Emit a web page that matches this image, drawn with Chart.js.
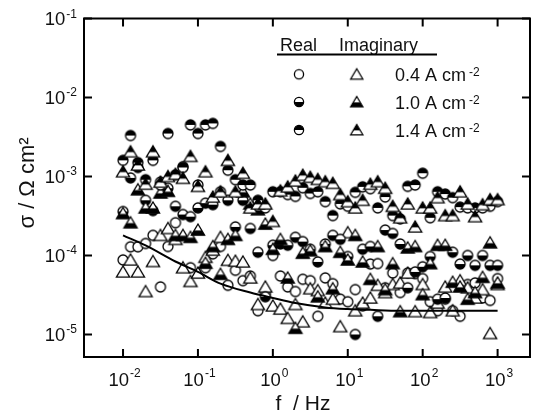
<!DOCTYPE html>
<html>
<head>
<meta charset="utf-8">
<script src="https://cdn.jsdelivr.net/npm/chart.js@4.4.1/dist/chart.umd.min.js"></script>
<style>
html,body{margin:0;padding:0;background:#fff;}
#wrap{width:537px;height:414px;position:relative;}
canvas{display:block;}
</style>
</head>
<body>
<div id="wrap"><canvas id="c" width="537" height="414" style="width:537px;height:414px"></canvas></div>
<script>
// ---- data ----
const frequencies = [0.01,0.0126,0.0158,0.02,0.0251,0.0316,0.0398,0.0501,0.0631,0.0794,
  0.1,0.126,0.158,0.2,0.251,0.316,0.398,0.501,0.631,0.794,
  1,1.26,1.58,2,2.51,3.16,3.98,5.01,6.31,7.94,
  10,12.6,15.8,20,25.1,31.6,39.8,50.1,63.1,79.4,
  100,126,158,200,251,316,398,501,631,794,1000];

const real04 = [8.8e-5,1.29e-4,1.29e-4,1.42e-4,1.8e-4,4.0e-5,1.3e-4,2.6e-4,1.33e-3,7.0e-5,
  7.8e-4,7.0e-5,1.05e-4,1.3e-4,4.2e-5,6.5e-5,4.8e-5,5.5e-5,2.0e-5,3.3e-5,
  1.0e-4,5.5e-5,4.0e-5,3.5e-5,5.0e-5,4.8e-5,1.7e-5,5.2e-5,4.4e-5,2.8e-5,
  2.6e-5,3.7e-5,2.3e-5,7.8e-5,7.9e-5,3.9e-5,6.0e-5,3.4e-5,6.0e-5,5.9e-5,
  5.1e-5,2.6e-5,2.0e-5,2.8e-5,2.0e-5,1.7e-5,4.3e-5,4.5e-5,2.9e-5,2.7e-5,5.1e-5];

const imag04 = [6.2e-5,8.8e-5,6.2e-5,3.5e-5,8.4e-5,1.8e-4,2.2e-4,1.6e-4,7.0e-5,4.7e-5,
  6.0e-5,9.5e-5,1.17e-4,1.7e-4,8.7e-5,8.5e-5,8.3e-5,5.2e-5,2.4e-5,4.0e-5,
  2.3e-5,2.1e-5,1.6e-5,2.4e-5,1.45e-5,3.8e-5,3.6e-5,2.5e-5,2.8e-5,1.26e-5,
  1.95e-4,2.0e-5,2.5e-5,2.9e-5,4.2e-5,3.4e-5,4.3e-5,4.5e-5,6.0e-5,1.95e-5,
  4.3e-5,1.9e-5,2.5e-5,4.0e-5,2.0e-5,4.8e-5,3.9e-5,2.9e-5,3.7e-5,1.03e-5,4.3e-5];

const real10 = [3.6e-4,9.6e-4,1.3e-3,5.0e-4,3.7e-4,8.5e-4,7.1e-4,4.2e-4,3.3e-4,3.1e-4,
  4.0e-4,4.6e-4,4.4e-4,6.4e-4,5.0e-4,2.3e-4,5.0e-4,2.2e-4,1.1e-4,3.0e-5,
  1.35e-4,1.4e-4,1.35e-4,1.7e-4,1.5e-4,1.2e-4,8.3e-5,1.4e-4,1.8e-4,1.6e-4,
  9.7e-5,1.0e-5,1.2e-4,1.3e-4,1.7e-5,2.1e-4,1.9e-4,1.4e-4,3.9e-5,6.2e-5,
  7.2e-5,9.7e-5,2.8e-5,2.9e-5,1.1e-4,7.8e-5,1.0e-4,7.5e-5,1.0e-4,7.5e-5,7.5e-5];

const imag10 = [3.4e-4,2.6e-4,6.8e-4,4.0e-4,4.0e-4,6.2e-4,6.5e-4,1.8e-4,1.8e-4,1.7e-4,
  2.1e-4,8.0e-5,1.3e-4,5.8e-5,1.6e-4,1.8e-4,6.4e-4,4.5e-4,3.8e-4,2.5e-4,
  1.2e-4,1.6e-4,5.2e-5,1.2e-5,1.07e-4,1.15e-4,3.0e-5,1.3e-4,3.8e-5,1.1e-4,
  8.8e-5,1.8e-4,8.3e-5,5.0e-5,1.3e-4,3.7e-5,7.9e-5,1.95e-5,1.25e-4,1.3e-4,
  3.2e-5,7.9e-5,1.35e-4,1.35e-4,4.6e-5,4.0e-5,2.8e-5,3.4e-5,5.3e-5,1.45e-4,4.5e-5];

const real14 = [1.6e-3,3.3e-3,1.5e-3,9.1e-4,1.6e-3,7.8e-4,3.5e-3,1.05e-3,1.3e-3,4.5e-3,
  3.5e-3,4.5e-3,4.7e-3,2.4e-3,1.2e-3,9.1e-4,7.8e-4,7.8e-4,5.0e-4,4.0e-4,
  6.4e-4,6.4e-4,5.9e-4,5.6e-4,7.2e-4,6.1e-4,6.4e-4,4.8e-4,3.2e-4,4.5e-4,
  4.2e-4,6.3e-4,7.4e-4,7.0e-4,4.0e-4,5.5e-4,3.2e-4,2.9e-4,7.5e-4,7.8e-4,
  1.1e-3,3.0e-4,6.4e-4,6.0e-4,5.4e-4,4.1e-4,4.0e-4,4.0e-4,4.0e-4,4.2e-4,4.8e-4];

const imag14 = [1.15e-3,2.06e-3,1.4e-3,8.0e-4,2.06e-3,8.5e-4,1.0e-3,1.07e-3,9.5e-4,1.8e-3,
  7.5e-4,1.15e-3,5.5e-4,6.4e-4,1.6e-3,6.4e-4,1.1e-3,4.0e-4,4.5e-4,4.5e-4,
  2.7e-4,6.6e-4,7.4e-4,8.8e-4,1.04e-3,9.8e-4,9.2e-4,8.6e-4,8.2e-4,5.9e-4,
  4.8e-4,4.0e-4,5.0e-4,8.0e-4,8.6e-4,7.1e-4,4.2e-4,3.0e-4,4.5e-4,2.3e-4,
  4.0e-4,4.0e-4,5.4e-4,3.2e-4,3.2e-4,6.4e-4,4.5e-4,3.1e-4,4.4e-4,5.1e-4,5.1e-4];

const fitFreq  = [0.01,0.02,0.05,0.1,0.2,0.5,1,2,5,10,20,50,100,300,1000];
const fitSigma = [1.8e-4,1.34e-4,8.4e-5,6.2e-5,4.4e-5,3.4e-5,2.9e-5,2.5e-5,2.2e-5,2.1e-5,2.05e-5,2.0e-5,2.0e-5,2.0e-5,2.0e-5];

const xTickValues = [0.01,0.1,1,10,100,1000];
const xTickExps   = ['-2','-1','0','1','2','3'];
const yTickValues = [1e-5,1e-4,1e-3,1e-2,1e-1];
const yTickExps   = ['-5','-4','-3','-2','-1'];
const legendLabels = ['0.4 A cm','1.0 A cm','1.4 A cm'];
const legendExp = '-2';
const xTitle = 'f  / Hz';
const yTitle = 'σ / Ω cm²';

// ---- marker images ----
function makeMarker(shape, mode, scale) {
  const s = scale || 1;
  const c = document.createElement('canvas');
  c.width = 18; c.height = 18;
  const g = c.getContext('2d');
  const path = () => {
    g.beginPath();
    if (shape === 'circle') g.arc(9, 9, 5.0 * s, 0, Math.PI * 2);
    else {
      g.moveTo(9, 9 - 6.0 * s); g.lineTo(9 + 6.6 * s, 9 + 5.2 * s);
      g.lineTo(9 - 6.6 * s, 9 + 5.2 * s); g.closePath();
    }
  };
  path(); g.fillStyle = '#fff'; g.fill();
  if (mode !== 'open') {
    g.save(); path(); g.clip();
    g.fillStyle = '#000';
    const split = shape === 'circle' ? 9 : 9 + 0.4 * s;
    if (mode === 'bottom') g.fillRect(0, split, 18, 18 - split);
    else g.fillRect(0, 0, 18, split);
    g.restore();
  }
  path(); g.lineWidth = 1.3; g.strokeStyle = '#000'; g.stroke();
  return c;
}
const mk = {
  r04: makeMarker('circle', 'open'),
  i04: makeMarker('tri', 'open'),
  r10: makeMarker('circle', 'bottom'),
  i10: makeMarker('tri', 'bottom'),
  r14: makeMarker('circle', 'top'),
  i14: makeMarker('tri', 'top')
};
const lg = {
  r04: makeMarker('circle', 'open', 0.92),
  i04: makeMarker('tri', 'open', 0.92),
  r10: makeMarker('circle', 'bottom', 0.92),
  i10: makeMarker('tri', 'bottom', 0.92),
  r14: makeMarker('circle', 'top', 0.92),
  i14: makeMarker('tri', 'top', 0.92)
};

function pts(xs, ys) { return xs.map((x, i) => ({ x: x, y: ys[i] })); }
function scatterSet(label, ys, img) {
  return { type: 'scatter', label: label, data: pts(frequencies, ys), pointStyle: img,
    pointRadius: 6, pointHoverRadius: 6, showLine: false };
}

const FONT = '"Liberation Sans", Arial, Helvetica, sans-serif';
const TXT = '#111';

function drawPow(ctx, x, baseY, exp, align, mainSize, expSize, raise) {
  ctx.font = mainSize + 'px ' + FONT;
  const w1 = ctx.measureText('10').width;
  ctx.font = expSize + 'px ' + FONT;
  const w2 = ctx.measureText(exp).width;
  const total = w1 + 1 + w2;
  let start = align === 'center' ? x - total / 2 : x - total;
  ctx.textAlign = 'left';
  ctx.textBaseline = 'alphabetic';
  ctx.font = mainSize + 'px ' + FONT;
  ctx.fillText('10', start, baseY);
  ctx.font = expSize + 'px ' + FONT;
  ctx.fillText(exp, start + w1 + 1, baseY - raise);
}

const decor = {
  id: 'decor',
  afterDraw(chart) {
    const ctx = chart.ctx;
    const a = chart.chartArea;
    const xs = chart.scales.x, ys = chart.scales.y;
    ctx.save();
    ctx.strokeStyle = '#000';
    ctx.fillStyle = TXT;
    // frame
    ctx.lineWidth = 2;
    ctx.strokeRect(a.left, a.top, a.right - a.left, a.bottom - a.top);
    // ticks
    const TL = 8;
    ctx.lineWidth = 2;
    ctx.beginPath();
    xTickValues.forEach(v => {
      const px = xs.getPixelForValue(v);
      ctx.moveTo(px, a.bottom); ctx.lineTo(px, a.bottom - TL);
      ctx.moveTo(px, a.top); ctx.lineTo(px, a.top + TL);
    });
    yTickValues.forEach(v => {
      const py = ys.getPixelForValue(v);
      ctx.moveTo(a.left, py); ctx.lineTo(a.left + TL, py);
      ctx.moveTo(a.right, py); ctx.lineTo(a.right - TL, py);
    });
    ctx.stroke();
    // tick labels
    xTickValues.forEach((v, i) => {
      const px = xs.getPixelForValue(v);
      drawPow(ctx, px + 1.5, 386, xTickExps[i], 'center', 18.5, 12, 9);
    });
    yTickValues.forEach((v, i) => {
      const py = ys.getPixelForValue(v);
      drawPow(ctx, 77, py + 6.5, yTickExps[i], 'right', 18.5, 12, 7.5);
    });
    // axis titles
    ctx.font = '21px ' + FONT;
    ctx.textAlign = 'center';
    ctx.textBaseline = 'alphabetic';
    ctx.fillText(xTitle, 303, 410);
    ctx.save();
    ctx.translate(28, 183);
    ctx.rotate(-Math.PI / 2);
    ctx.font = '22px ' + FONT;
    ctx.textBaseline = 'middle';
    ctx.fillText(yTitle, 0, 0);
    ctx.restore();
    // legend
    ctx.font = '18px ' + FONT;
    ctx.textAlign = 'left';
    ctx.textBaseline = 'alphabetic';
    ctx.fillText('Real', 280, 50.5);
    ctx.fillText('Imaginary', 339, 50.5);
    ctx.lineWidth = 1.8;
    ctx.beginPath(); ctx.moveTo(277, 54.5); ctx.lineTo(437, 54.5); ctx.stroke();
    const rows = [74.3, 102, 130];
    const imgs = [[lg.r04, lg.i04], [lg.r10, lg.i10], [lg.r14, lg.i14]];
    rows.forEach((ry, i) => {
      ctx.drawImage(imgs[i][0], 299 - 9, ry - 9);
      ctx.drawImage(imgs[i][1], 356.7 - 9, ry - 9);
      ctx.font = '18px ' + FONT;
      ctx.fillText(legendLabels[i], 395, ry + 7);
      const w = ctx.measureText(legendLabels[i]).width;
      ctx.font = '12px ' + FONT;
      ctx.fillText(legendExp, 395 + w + 3, ry + 1.5);
    });
    ctx.restore();
  }
};

new Chart(document.getElementById('c'), {
  type: 'scatter',
  data: {
    datasets: [
      { type: 'line', label: 'fit', data: pts(fitFreq, fitSigma), borderColor: '#000', borderWidth: 2,
        pointRadius: 0, showLine: true, tension: 0.4, cubicInterpolationMode: 'monotone', fill: false },
      scatterSet('1.4 Imag', imag14, mk.i14),
      scatterSet('1.4 Real', real14, mk.r14),
      scatterSet('1.0 Imag', imag10, mk.i10),
      scatterSet('1.0 Real', real10, mk.r10),
      scatterSet('0.4 Imag', imag04, mk.i04),
      scatterSet('0.4 Real', real04, mk.r04)
    ]
  },
  options: {
    responsive: false,
    animation: false,
    devicePixelRatio: 1,
    layout: { padding: { left: 84, right: 1.5, top: 18.5, bottom: 57 } },
    plugins: { legend: { display: false }, tooltip: { enabled: false } },
    events: [],
    scales: {
      x: { type: 'logarithmic', min: 0.003013, max: 2707, display: false },
      y: { type: 'logarithmic', min: 5.19e-6, max: 0.1, display: false }
    }
  },
  plugins: [decor]
});
</script>
</body>
</html>
